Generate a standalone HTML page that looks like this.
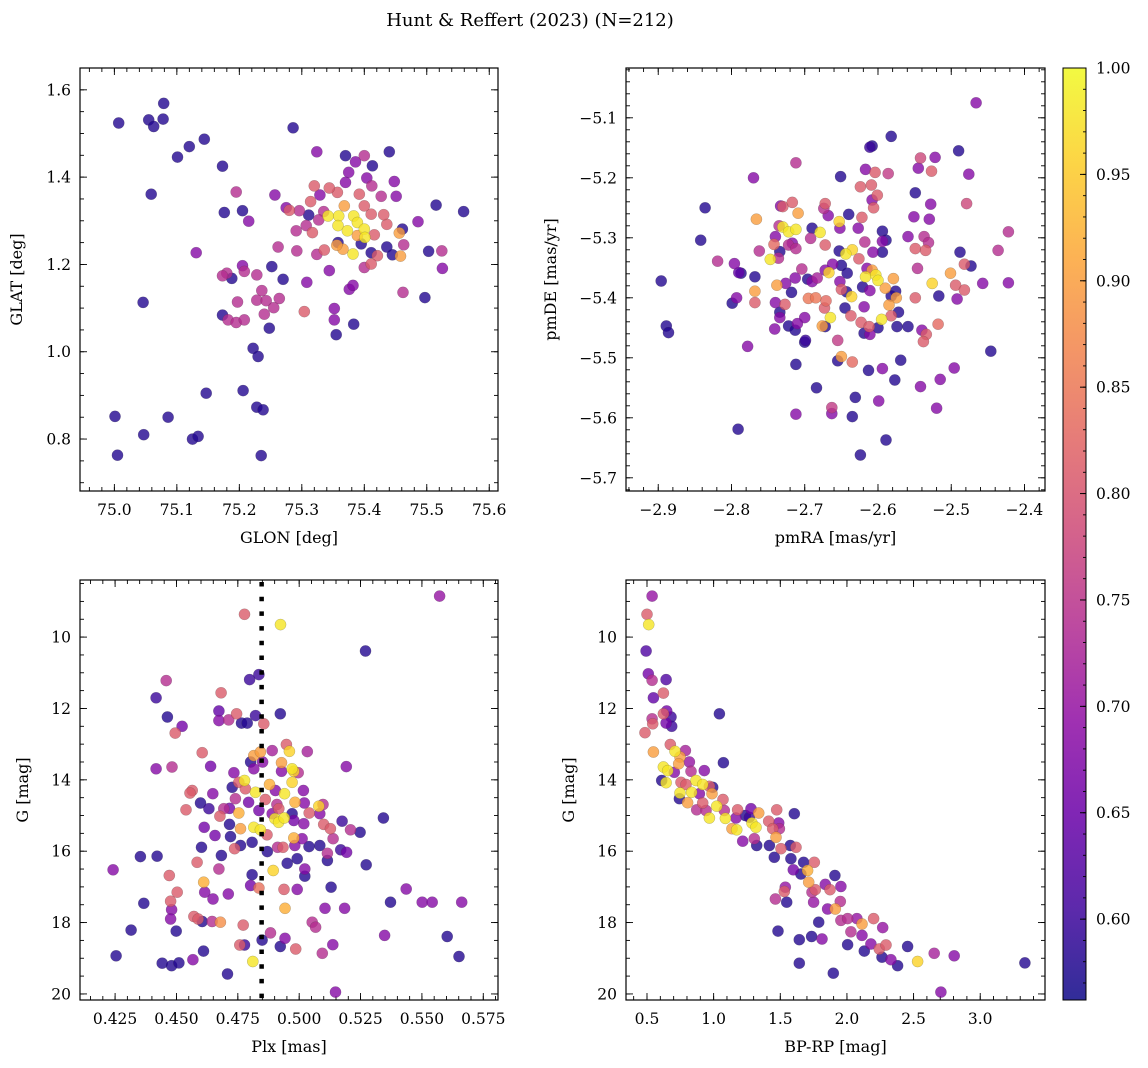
<!DOCTYPE html>
<html><head><meta charset="utf-8">
<style>
html,body{margin:0;padding:0;background:#fff;}
svg{display:block;font-family:"DejaVu Serif","Liberation Serif",serif;}
</style></head>
<body>
<svg id="fig" width="1148" height="1068" viewBox="0 0 1148 1068" xmlns="http://www.w3.org/2000/svg">
<defs>
<linearGradient id="plasma" x1="0" y1="1" x2="0" y2="0">
<stop offset="0" stop-color="#0d0887"/><stop offset="0.1" stop-color="#41049d"/><stop offset="0.2" stop-color="#6a00a8"/><stop offset="0.3" stop-color="#8f0da4"/><stop offset="0.4" stop-color="#b12a90"/><stop offset="0.5" stop-color="#cc4778"/><stop offset="0.6" stop-color="#e16462"/><stop offset="0.7" stop-color="#f2844b"/><stop offset="0.8" stop-color="#fca636"/><stop offset="0.9" stop-color="#fcce25"/><stop offset="1" stop-color="#f0f921"/>
</linearGradient>
</defs>
<text x="530" y="26" text-anchor="middle" font-size="18">Hunt &amp; Reffert (2023) (N=212)</text>
</svg>
<script>
// ---------- data ----------
const glon = [75.007,75.079,75.055,75.063,75.078,75.144,75.120,75.101,75.173,75.286,75.059,75.195,75.176,75.205,75.215,75.131,75.257,75.324,75.370,75.386,75.400,75.413,75.440,75.375,75.404,75.370,75.412,75.448,75.451,75.427,75.515,75.559,75.486,75.461,75.456,75.463,75.503,75.524,75.525,75.462,75.497,75.458,75.436,75.445,75.436,75.431,75.411,75.416,75.411,75.421,75.411,75.400,75.395,75.382,75.366,75.356,75.342,75.359,75.358,75.373,75.383,75.389,75.400,75.401,75.389,75.368,75.400,75.392,75.357,75.344,75.320,75.329,75.314,75.335,75.327,75.311,75.296,75.280,75.275,75.307,75.317,75.291,75.262,75.292,75.336,75.324,75.358,75.344,75.308,75.270,75.252,75.228,75.205,75.208,75.188,75.180,75.173,75.236,75.228,75.243,75.264,75.255,75.240,75.197,75.173,75.182,75.195,75.208,75.248,75.304,75.352,75.352,75.355,75.383,75.376,75.382,75.046,75.222,75.230,75.147,75.206,75.001,75.086,75.228,75.238,75.047,75.125,75.134,75.005,75.235];
const glat = [1.524,1.569,1.531,1.516,1.533,1.487,1.470,1.446,1.425,1.513,1.361,1.366,1.319,1.323,1.299,1.227,1.359,1.458,1.449,1.435,1.449,1.426,1.458,1.411,1.398,1.388,1.380,1.390,1.356,1.356,1.336,1.321,1.298,1.281,1.272,1.245,1.230,1.231,1.191,1.136,1.124,1.219,1.240,1.222,1.292,1.314,1.315,1.268,1.227,1.220,1.201,1.193,1.247,1.224,1.235,1.244,1.311,1.311,1.289,1.277,1.311,1.296,1.281,1.262,1.266,1.334,1.334,1.361,1.365,1.375,1.380,1.359,1.344,1.321,1.302,1.313,1.323,1.324,1.330,1.289,1.273,1.277,1.240,1.231,1.233,1.223,1.250,1.186,1.159,1.166,1.195,1.176,1.197,1.184,1.168,1.180,1.174,1.140,1.118,1.117,1.122,1.101,1.086,1.114,1.084,1.073,1.067,1.073,1.054,1.092,1.099,1.073,1.039,1.063,1.143,1.152,1.113,1.008,0.989,0.905,0.911,0.852,0.850,0.873,0.867,0.810,0.800,0.806,0.763,0.762];
const prob1 = [.58,.58,.58,.58,.58,.58,.58,.58,.58,.58,.58,.74,.58,.58,.68,.68,.68,.68,.58,.68,.74,.58,.58,.68,.68,.68,.74,.68,.68,.74,.58,.58,.68,.58,.90,.74,.58,.74,.68,.74,.58,.90,.58,.58,.81,.81,.81,.81,.58,.81,.81,.74,.58,.98,.90,.90,.98,.98,.98,.98,.98,.98,.98,.98,.90,.90,.81,.81,.81,.81,.81,.68,.81,.74,.74,.58,.74,.81,.68,.74,.81,.74,.74,.74,.81,.74,.58,.68,.68,.58,.58,.74,.68,.74,.58,.74,.74,.74,.74,.74,.74,.74,.74,.74,.58,.74,.74,.74,.58,.81,.68,.68,.58,.58,.68,.68,.58,.58,.58,.58,.58,.58,.58,.58,.58,.58,.58,.58,.58,.58];

const pmra = [-2.466,-2.582,-2.608,-2.611,-2.490,-2.712,-2.542,-2.522,-2.545,-2.527,-2.770,-2.651,-2.617,-2.604,-2.586,-2.476,-2.624,-2.609,-2.601,-2.608,-2.606,-2.549,-2.528,-2.479,-2.836,-2.766,-2.733,-2.730,-2.717,-2.709,-2.672,-2.674,-2.668,-2.640,-2.653,-2.622,-2.551,-2.530,-2.735,-2.730,-2.722,-2.712,-2.690,-2.679,-2.652,-2.627,-2.594,-2.842,-2.740,-2.742,-2.717,-2.722,-2.712,-2.692,-2.672,-2.618,-2.594,-2.589,-2.559,-2.537,-2.531,-2.549,-2.535,-2.422,-2.436,-2.762,-2.734,-2.736,-2.747,-2.819,-2.796,-2.653,-2.644,-2.635,-2.626,-2.607,-2.594,-2.488,-2.482,-2.473,-2.787,-2.790,-2.768,-2.704,-2.662,-2.667,-2.672,-2.650,-2.642,-2.615,-2.617,-2.608,-2.603,-2.600,-2.579,-2.546,-2.501,-2.526,-2.494,-2.482,-2.457,-2.422,-2.896,-2.738,-2.726,-2.713,-2.696,-2.690,-2.683,-2.652,-2.650,-2.643,-2.621,-2.611,-2.590,-2.576,-2.768,-2.718,-2.636,-2.575,-2.582,-2.549,-2.517,-2.492,-2.793,-2.799,-2.768,-2.740,-2.727,-2.695,-2.685,-2.671,-2.673,-2.645,-2.619,-2.585,-2.734,-2.734,-2.637,-2.665,-2.595,-2.582,-2.572,-2.700,-2.710,-2.722,-2.741,-2.713,-2.676,-2.672,-2.623,-2.612,-2.619,-2.611,-2.600,-2.574,-2.559,-2.540,-2.534,-2.518,-2.538,-2.889,-2.886,-2.700,-2.699,-2.655,-2.778,-2.446,-2.655,-2.650,-2.635,-2.712,-2.613,-2.594,-2.569,-2.496,-2.577,-2.515,-2.542,-2.684,-2.631,-2.599,-2.663,-2.663,-2.712,-2.635,-2.520,-2.791,-2.589,-2.624];
const pmde = [-5.075,-5.131,-5.147,-5.149,-5.155,-5.175,-5.167,-5.166,-5.184,-5.189,-5.200,-5.198,-5.186,-5.191,-5.193,-5.194,-5.215,-5.212,-5.229,-5.237,-5.250,-5.225,-5.244,-5.243,-5.250,-5.269,-5.247,-5.248,-5.241,-5.259,-5.243,-5.251,-5.263,-5.261,-5.273,-5.266,-5.265,-5.269,-5.280,-5.282,-5.290,-5.286,-5.284,-5.291,-5.284,-5.284,-5.289,-5.304,-5.298,-5.311,-5.309,-5.312,-5.318,-5.301,-5.312,-5.307,-5.306,-5.304,-5.298,-5.298,-5.308,-5.318,-5.321,-5.290,-5.321,-5.322,-5.323,-5.334,-5.336,-5.339,-5.343,-5.322,-5.327,-5.320,-5.335,-5.324,-5.324,-5.324,-5.344,-5.347,-5.359,-5.358,-5.365,-5.352,-5.344,-5.358,-5.354,-5.346,-5.359,-5.351,-5.365,-5.354,-5.362,-5.371,-5.368,-5.351,-5.359,-5.376,-5.379,-5.387,-5.376,-5.375,-5.372,-5.379,-5.376,-5.367,-5.369,-5.373,-5.367,-5.373,-5.386,-5.390,-5.382,-5.388,-5.384,-5.389,-5.389,-5.391,-5.398,-5.400,-5.397,-5.400,-5.397,-5.402,-5.400,-5.409,-5.408,-5.408,-5.411,-5.401,-5.400,-5.405,-5.417,-5.417,-5.415,-5.412,-5.424,-5.433,-5.430,-5.433,-5.436,-5.430,-5.424,-5.433,-5.443,-5.447,-5.452,-5.454,-5.447,-5.448,-5.441,-5.448,-5.459,-5.461,-5.450,-5.448,-5.448,-5.454,-5.461,-5.444,-5.473,-5.447,-5.458,-5.474,-5.471,-5.471,-5.481,-5.489,-5.505,-5.498,-5.507,-5.511,-5.521,-5.518,-5.504,-5.517,-5.537,-5.536,-5.548,-5.550,-5.566,-5.572,-5.583,-5.593,-5.594,-5.598,-5.584,-5.619,-5.637,-5.662];
const prob2 = [.68,.58,.58,.60,.58,.74,.78,.68,.68,.81,.68,.58,.68,.81,.76,.68,.81,.81,.81,.68,.81,.58,.68,.78,.58,.90,.68,.81,.81,.90,.81,.74,.68,.58,.96,.81,.68,.68,.74,.98,.98,.98,.58,.98,.68,.68,.58,.58,.68,.83,.68,.74,.74,.74,.81,.74,.68,.58,.68,.74,.74,.81,.81,.74,.74,.74,.58,.74,.98,.74,.68,.58,.98,.96,.81,.68,.58,.58,.81,.58,.58,.64,.58,.74,.68,.96,.68,.58,.58,.68,.98,.90,.98,.98,.90,.74,.90,.96,.81,.81,.68,.68,.58,.90,.68,.68,.58,.68,.72,.68,.81,.58,.58,.68,.90,.58,.90,.58,.96,.90,.58,.81,.58,.68,.68,.58,.81,.68,.81,.85,.85,.83,.81,.58,.68,.90,.58,.68,.81,.98,.98,.81,.58,.68,.68,.58,.68,.58,.90,.58,.81,.81,.58,.68,.58,.58,.58,.68,.81,.83,.81,.58,.58,.58,.60,.76,.68,.58,.58,.90,.83,.58,.58,.68,.58,.68,.58,.68,.68,.58,.58,.68,.76,.68,.68,.58,.68,.58,.58,.58];

const plx = [0.5572,0.4777,0.4924,0.5270,0.4458,0.4798,0.4836,0.4417,0.4682,0.4463,0.4523,0.4495,0.4673,0.4673,0.4713,0.4745,0.4765,0.4788,0.4822,0.4856,0.4923,0.4417,0.4482,0.4605,0.4639,0.5033,0.5192,0.4948,0.4960,0.4890,0.4815,0.4842,0.4802,0.4851,0.4734,0.4815,0.4928,0.4928,0.4971,0.4978,0.4996,0.4971,0.4777,0.4754,0.4727,0.4781,0.4822,0.4879,0.4903,0.4940,0.5017,0.4564,0.4555,0.4648,0.4598,0.4632,0.4693,0.4716,0.4740,0.4794,0.4862,0.4909,0.4983,0.5021,0.5097,0.5080,0.5041,0.4539,0.4677,0.4754,0.4836,0.4890,0.4917,0.4971,0.4901,0.4916,0.4939,0.4978,0.5019,0.5084,0.5100,0.5127,0.5175,0.5209,0.5248,0.5343,0.4613,0.4716,0.4761,0.4815,0.4842,0.4657,0.4720,0.4869,0.4978,0.5012,0.5138,0.4761,0.4808,0.4737,0.4602,0.4870,0.4934,0.4912,0.4982,0.5040,0.5084,0.5115,0.5115,0.5169,0.5193,0.4353,0.4421,0.4683,0.4584,0.4951,0.4992,0.5273,0.4673,0.4894,0.5023,0.5023,0.4242,0.4471,0.4808,0.4611,0.4615,0.4503,0.4711,0.4802,0.4836,0.4938,0.4992,0.5130,0.5436,0.4649,0.4476,0.4367,0.4480,0.4476,0.5105,0.5185,0.4942,0.5372,0.5501,0.5542,0.5662,0.4571,0.4588,0.4605,0.4645,0.4679,0.5053,0.5067,0.4772,0.4315,0.4499,0.4883,0.4849,0.4942,0.5348,0.5603,0.4758,0.4777,0.4923,0.4986,0.5137,0.5094,0.4610,0.4254,0.4442,0.4480,0.4510,0.4567,0.4811,0.4708,0.5651,0.5148];
const gmag3 = [8.85,9.36,9.65,10.39,11.22,11.19,11.05,11.70,11.56,12.24,12.50,12.69,12.07,12.34,12.32,12.15,12.41,12.41,12.20,12.43,12.15,13.69,13.64,13.24,13.62,13.21,13.63,13.01,13.20,13.18,13.32,13.22,13.50,13.50,13.80,13.69,13.52,13.76,13.69,13.76,13.80,14.07,14.02,14.07,14.21,14.25,14.35,14.13,14.30,14.39,14.30,14.30,14.37,14.39,14.65,14.81,14.81,14.80,14.53,14.63,14.55,14.69,14.63,14.65,14.69,14.74,14.93,14.84,15.02,14.93,14.86,14.95,14.81,14.95,15.09,15.19,15.07,15.14,15.23,14.95,15.25,15.37,15.16,15.40,15.47,15.07,15.33,15.25,15.37,15.33,15.40,15.56,15.59,15.54,15.63,15.65,15.65,15.84,15.75,15.93,15.89,16.01,15.89,15.89,15.84,15.87,15.84,16.06,16.26,15.96,16.03,16.15,16.14,16.12,16.31,16.34,16.21,16.38,16.50,16.54,16.50,16.70,16.52,16.68,16.66,16.87,17.15,17.15,17.20,16.96,17.03,17.07,17.07,17.01,17.06,17.34,17.40,17.46,17.64,17.90,17.60,17.60,17.60,17.43,17.43,17.43,17.43,17.83,17.90,17.97,17.97,17.99,17.99,18.13,18.07,18.21,18.24,18.29,18.49,18.44,18.36,18.39,18.63,18.63,18.67,18.74,18.62,18.86,18.80,18.93,19.14,19.21,19.13,19.04,19.09,19.44,18.95,19.95];
const prob3 = [.70,.81,.98,.58,.74,.60,.60,.60,.81,.58,.66,.81,.64,.68,.74,.81,.58,.58,.60,.81,.58,.68,.74,.81,.66,.72,.68,.81,.96,.72,.90,.90,.58,.68,.68,.68,.90,.68,.98,.96,.74,.96,.98,.81,.58,.81,.98,.92,.68,.98,.68,.81,.81,.68,.58,.60,.74,.66,.74,.66,.81,.74,.92,.68,.74,.96,.81,.81,.81,.92,.66,.68,.81,.58,.98,.98,.98,.66,.68,.68,.81,.81,.60,.74,.58,.58,.66,.58,.90,.98,.98,.66,.58,.81,.92,.68,.74,.58,.58,.81,.58,.58,.81,.74,.68,.58,.58,.74,.58,.60,.66,.58,.58,.58,.81,.58,.58,.58,.74,.96,.68,.58,.68,.81,.58,.92,.68,.81,.68,.66,.84,.81,.68,.58,.68,.68,.81,.58,.68,.68,.68,.68,.92,.58,.68,.68,.68,.81,.81,.58,.74,.88,.74,.74,.81,.58,.58,.74,.58,.68,.68,.58,.81,.60,.58,.81,.68,.74,.58,.58,.58,.58,.58,.68,.98,.58,.58,.68];

const bprp = [0.538,0.500,0.513,0.493,0.510,0.538,0.643,0.623,0.548,0.648,0.623,0.680,0.643,0.685,0.538,0.543,0.485,1.043,0.548,0.675,0.710,0.788,0.748,0.738,0.818,1.073,0.623,0.655,0.705,0.830,0.930,0.610,0.643,0.755,0.793,0.868,0.918,0.968,0.993,0.748,0.835,0.893,0.988,1.070,0.743,0.805,0.918,1.023,0.873,0.943,1.080,1.180,1.280,1.338,1.238,1.168,0.968,1.088,1.288,1.318,1.173,1.138,1.218,1.305,1.323,1.473,1.605,1.413,1.488,1.493,1.443,1.468,1.418,1.455,1.505,1.575,1.618,1.580,1.675,1.755,1.598,1.655,1.705,1.713,1.910,1.538,1.530,1.463,1.548,1.738,1.763,1.838,1.873,1.955,1.750,1.855,1.913,1.950,1.955,2.005,2.075,2.113,2.200,2.268,2.030,2.113,1.788,1.483,1.643,1.735,1.813,2.005,2.130,2.180,2.243,2.293,2.263,2.330,2.380,2.455,2.530,2.655,2.805,3.335,2.705,1.643,1.898,1.268];
const gmag4 = [8.85,9.36,9.65,10.39,11.03,11.21,11.19,11.57,11.70,12.07,12.15,12.24,12.41,12.50,12.29,12.43,12.68,12.15,13.22,13.01,13.20,13.18,13.36,13.55,13.50,13.52,13.64,13.74,13.79,13.76,13.74,14.02,14.08,14.07,14.13,14.02,14.13,14.18,14.21,14.37,14.35,14.39,14.39,14.55,14.53,14.64,14.65,14.74,14.84,14.86,14.86,14.84,14.81,14.93,15.00,15.07,15.07,15.08,15.21,15.33,15.40,15.37,15.72,15.65,15.84,14.84,14.95,15.16,15.21,15.37,15.37,15.61,15.84,16.17,15.93,15.84,15.89,16.21,16.31,16.31,16.52,16.64,16.54,16.87,16.68,17.01,17.13,17.34,17.43,17.15,17.08,16.93,17.08,16.99,17.43,17.62,17.62,17.41,17.94,17.89,17.89,18.04,17.89,18.14,18.26,18.36,17.99,18.24,18.48,18.39,18.46,18.62,18.80,18.60,18.74,18.63,18.97,19.04,19.21,18.67,19.09,18.86,18.93,19.13,19.95,19.14,19.42,15.05];
const prob4 = [.70,.81,.98,.62,.66,.74,.62,.81,.64,.66,.81,.60,.66,.60,.74,.81,.81,.58,.90,.81,.98,.72,.90,.90,.70,.58,.98,.98,.68,.74,.68,.58,.98,.81,.81,.98,.98,.81,.58,.98,.98,.68,.90,.81,.58,.90,.81,.98,.74,.74,.74,.81,.66,.90,.58,.68,.98,.98,.98,.98,.98,.90,.68,.74,.58,.81,.58,.81,.68,.74,.81,.90,.58,.58,.81,.58,.81,.58,.58,.81,.66,.58,.92,.90,.58,.70,.81,.74,.58,.74,.81,.68,.81,.68,.70,.68,.90,.74,.74,.74,.70,.90,.81,.70,.74,.68,.58,.58,.58,.58,.68,.58,.58,.68,.81,.81,.58,.68,.58,.58,.96,.72,.68,.58,.68,.58,.58,.60];

const p1XTicks = [75.0,75.1,75.2,75.3,75.4,75.5,75.6];
const p1YTicks = [0.8,1.0,1.2,1.4,1.6];
const p2XTicks = [-2.9,-2.8,-2.7,-2.6,-2.5,-2.4];
const p2YTicks = [-5.7,-5.6,-5.5,-5.4,-5.3,-5.2,-5.1];
const p3XTicks = [0.425,0.450,0.475,0.500,0.525,0.550,0.575];
const gTicks = [10,12,14,16,18,20];
const p4XTicks = [0.5,1.0,1.5,2.0,2.5,3.0];
const cbTicks = [0.60,0.65,0.70,0.75,0.80,0.85,0.90,0.95,1.00];
const plxMedian = 0.4847;
const vmin = 0.562, vmax = 1.0;

// ---------- helpers ----------
const NS = "http://www.w3.org/2000/svg";
const svg = document.getElementById('fig');
function mk(tag, attrs, parent){ const e=document.createElementNS(NS,tag); for(const k in attrs) e.setAttribute(k,attrs[k]); (parent||svg).appendChild(e); return e; }
const stops=[[0,[13,8,135]],[.1,[65,4,157]],[.2,[106,0,168]],[.3,[143,13,164]],[.4,[177,42,144]],[.5,[204,71,120]],[.6,[225,100,98]],[.7,[242,132,75]],[.8,[252,166,54]],[.9,[252,206,37]],[1,[240,249,33]]];
function plasma(t){ t=Math.max(0,Math.min(1,t)); for(let i=1;i<stops.length;i++){ if(t<=stops[i][0]){ const a=stops[i-1],b=stops[i]; const f=(t-a[0])/(b[0]-a[0]); const c=a[1].map((v,j)=>Math.round(v+(b[1][j]-v)*f)); return `rgb(${c[0]},${c[1]},${c[2]})`; } } return 'rgb(240,249,33)'; }
const fmtMinus = s => s.replace('-', '\u2212');

function makeAxes(cfg){
  const g = mk('g',{});
  
  
  const sx = v => cfg.px0 + (v-cfg.xmin)/(cfg.xmax-cfg.xmin)*(cfg.px1-cfg.px0);
  const sy = v => cfg.py0 + (v-cfg.ytop)/(cfg.ybot-cfg.ytop)*(cfg.py1-cfg.py0);
  cfg.sx=sx; cfg.sy=sy; cfg.g=g;
  // minor ticks
  const eps=1e-9;
  const tk = {stroke:'#000','stroke-width':0.9};
  const xlo=Math.min(cfg.xmin,cfg.xmax), xhi=Math.max(cfg.xmin,cfg.xmax);
  for(let v=Math.ceil(xlo/cfg.xminor-eps)*cfg.xminor; v<=xhi+eps; v+=cfg.xminor){
    const x=sx(v); if(x<cfg.px0+0.5||x>cfg.px1-0.5) continue;
    mk('line',Object.assign({x1:x,x2:x,y1:cfg.py1,y2:cfg.py1-4},tk),g);
    mk('line',Object.assign({x1:x,x2:x,y1:cfg.py0,y2:cfg.py0+4},tk),g);
  }
  const ylo=Math.min(cfg.ytop,cfg.ybot), yhi=Math.max(cfg.ytop,cfg.ybot);
  for(let v=Math.ceil(ylo/cfg.yminor-eps)*cfg.yminor; v<=yhi+eps; v+=cfg.yminor){
    const y=sy(v); if(y<cfg.py0+0.5||y>cfg.py1-0.5) continue;
    mk('line',Object.assign({x1:cfg.px0,x2:cfg.px0+4,y1:y,y2:y},tk),g);
    mk('line',Object.assign({x1:cfg.px1,x2:cfg.px1-4,y1:y,y2:y},tk),g);
  }
  cfg.xticks.forEach(v=>{
    const x=sx(v);
    mk('line',Object.assign({x1:x,x2:x,y1:cfg.py1,y2:cfg.py1-7},tk),g);
    mk('line',Object.assign({x1:x,x2:x,y1:cfg.py0,y2:cfg.py0+7},tk),g);
    const t=mk('text',{x:x,y:cfg.py1+24,'text-anchor':'middle','font-size':15.5},g);
    t.textContent=fmtMinus(v.toFixed(cfg.xdec));
    
    
  });
  cfg.yticks.forEach(v=>{
    const y=sy(v);
    mk('line',Object.assign({x1:cfg.px0,x2:cfg.px0+7,y1:y,y2:y},tk),g);
    mk('line',Object.assign({x1:cfg.px1,x2:cfg.px1-7,y1:y,y2:y},tk),g);
    const t=mk('text',{x:cfg.px0-9,y:y+5.5,'text-anchor':'end','font-size':15.5},g);
    t.textContent=fmtMinus(v.toFixed(cfg.ydec));
    
    
  });
  const xl=mk('text',{x:(cfg.px0+cfg.px1)/2,y:cfg.py1+52,'text-anchor':'middle','font-size':16},g);
  xl.textContent=cfg.xlabel;
  
  
  const ylx=cfg.ylx, yly=(cfg.py0+cfg.py1)/2;
  const yl=mk('text',{x:ylx,y:yly,'text-anchor':'middle','font-size':16,transform:`rotate(-90 ${ylx} ${yly})`},g);
  yl.textContent=cfg.ylabel;
  
  
  cfg.plot = mk('g',{},g);
  const clip = mk('clipPath',{id:'clip-'+cfg.name},g);
  mk('rect',{x:cfg.px0,y:cfg.py0,width:cfg.px1-cfg.px0,height:cfg.py1-cfg.py0},clip);
  cfg.plot.setAttribute('clip-path',`url(#clip-${cfg.name})`);
  return cfg;
}
function frame(cfg){
  const r=mk('rect',{x:cfg.px0,y:cfg.py0,width:cfg.px1-cfg.px0,height:cfg.py1-cfg.py0,fill:'none',stroke:'#000','stroke-width':1.2},cfg.g);
  
  
}
function scatter(cfg, xs, ys, ps){
  const idx = xs.map((_,i)=>i).sort((a,b)=>ps[a]-ps[b]);
  idx.forEach(i=>{
    const c=mk('circle',{cx:cfg.sx(xs[i]).toFixed(1),cy:cfg.sy(ys[i]).toFixed(1),r:5.6,fill:plasma((ps[i]-vmin)/(vmax-vmin)),'fill-opacity':0.8,stroke:'rgba(60,60,60,0.35)','stroke-width':0.5},cfg.plot);
    
    
  });
}

// ---------- panels ----------
const a1 = makeAxes({name:'panel-glon-glat',px0:80,px1:498,py0:68,py1:491,xmin:74.945,xmax:75.614,ytop:1.650,ybot:0.681,xticks:p1XTicks,yticks:p1YTicks,xminor:0.02,yminor:0.05,xdec:1,ydec:1,xlabel:'GLON [deg]',ylabel:'GLAT [deg]',ylx:22});
scatter(a1, glon, glat, prob1); frame(a1);

const a2 = makeAxes({name:'panel-pm',px0:626,px1:1045,py0:68,py1:491,xmin:-2.944,xmax:-2.372,ytop:-5.017,ybot:-5.722,xticks:p2XTicks,yticks:p2YTicks,xminor:0.02,yminor:0.02,xdec:1,ydec:1,xlabel:'pmRA [mas/yr]',ylabel:'pmDE [mas/yr]',ylx:556});
scatter(a2, pmra, pmde, prob2); frame(a2);

const a3 = makeAxes({name:'panel-plx-g',px0:80,px1:498,py0:580,py1:1000,xmin:0.4107,xmax:0.581,ytop:8.40,ybot:20.17,xticks:p3XTicks,yticks:gTicks,xminor:0.005,yminor:0.5,xdec:3,ydec:0,xlabel:'Plx [mas]',ylabel:'G [mag]',ylx:28});
scatter(a3, plx, gmag3, prob3);
const ml = mk('line',{x1:a3.sx(plxMedian),x2:a3.sx(plxMedian),y1:582,y2:1000,stroke:'#000','stroke-width':4.5,'stroke-dasharray':'4.5 10.2'},a3.g);


frame(a3);

const a4 = makeAxes({name:'panel-cmd',px0:626,px1:1045,py0:580,py1:1000,xmin:0.3425,xmax:3.486,ytop:8.40,ybot:20.17,xticks:p4XTicks,yticks:gTicks,xminor:0.1,yminor:0.5,xdec:1,ydec:0,xlabel:'BP-RP [mag]',ylabel:'G [mag]',ylx:574});
scatter(a4, bprp, gmag4, prob4); frame(a4);

// ---------- colorbar ----------
const cb = mk('g',{});


const cbx0=1063, cbx1=1086, cby0=68, cby1=1000;
mk('rect',{x:cbx0,y:cby0,width:cbx1-cbx0,height:cby1-cby0,fill:'url(#plasma)','fill-opacity':0.85},cb);
mk('rect',{x:cbx0,y:cby0,width:cbx1-cbx0,height:cby1-cby0,fill:'none',stroke:'#000','stroke-width':1},cb);
const cy = v => cby1 - (v-vmin)/(vmax-vmin)*(cby1-cby0);
for(let v=0.57; v<=1.0001; v+=0.01){ mk('line',{x1:cbx1,x2:cbx1-3,y1:cy(v),y2:cy(v),stroke:'#000','stroke-width':0.9},cb); }
cbTicks.forEach(v=>{
  mk('line',{x1:cbx1,x2:cbx1-6,y1:cy(v),y2:cy(v),stroke:'#000','stroke-width':1},cb);
  const t=mk('text',{x:cbx1+10,y:cy(v)+5.5,'font-size':15.5},cb);
  t.textContent=v.toFixed(2);
  
  
});
</script>
</body></html>
